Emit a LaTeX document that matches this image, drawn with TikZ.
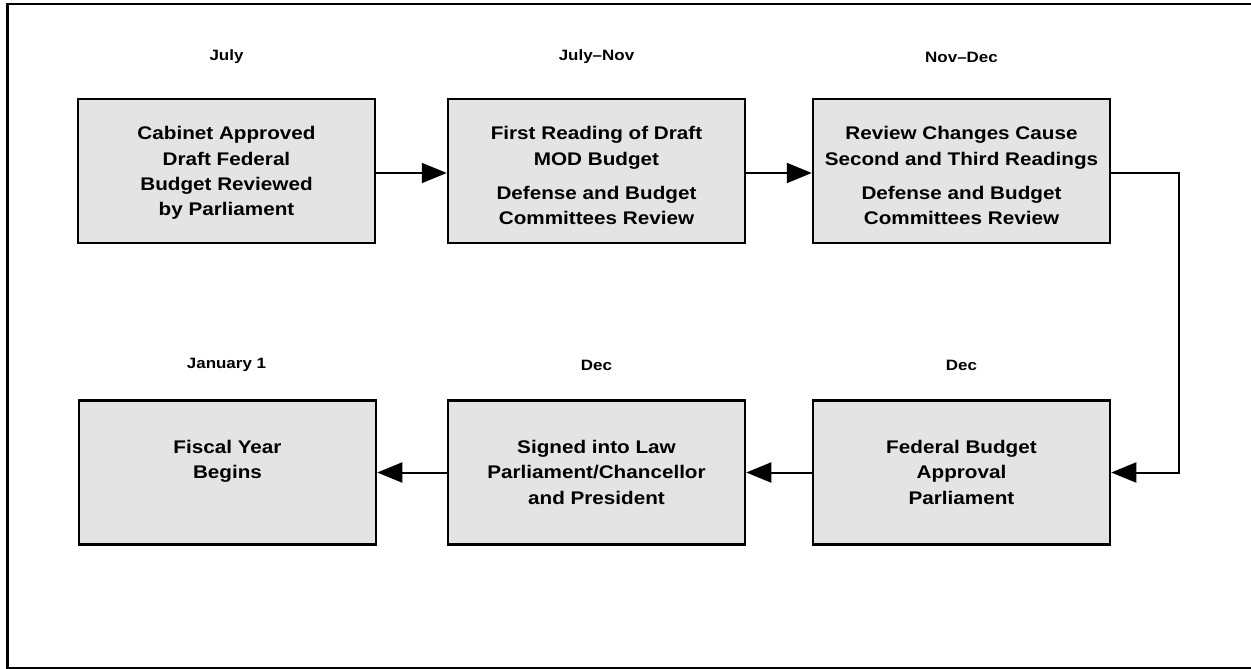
\documentclass[tikz,border=0pt]{standalone}
\usepackage{fontspec}
\setmainfont{Liberation Sans}[FakeStretch=1.13]
\usetikzlibrary{arrows.meta}
\definecolor{boxgray}{HTML}{E4E4E4}
\begin{document}
\begin{tikzpicture}[x=1pt,y=-1pt,
  box/.style={draw=black, line width=2.5pt, fill=boxgray, minimum width=297pt, minimum height=144pt, inner sep=0pt},
  txt/.style={font=\bfseries\fontsize{18.3}{25.3}\selectfont, align=center, inner sep=0pt, anchor=north},
  datelbl/.style={font=\bfseries\fontsize{15}{18}\selectfont, inner sep=0pt},
  conn/.style={line width=2pt, -{Triangle[length=25pt,width=20pt]}},
  frame/.style={line width=2.5pt}]
\useasboundingbox (0,0) rectangle (1251,669);
% outer frame
\draw[frame] (1260,4) -- (7.5,4) -- (7.5,668) -- (1260,668);
% date labels
\node[datelbl] (d1) at (226.5,57) {July};
\node[datelbl] (d2) at (596.5,57) {July–Nov};
\node[datelbl] (d3) at (961.5,57) {Nov–Dec};
\node[datelbl] (d4) at (226.5,365) {January 1};
\node[datelbl] (d5) at (596.5,365) {Dec};
\node[datelbl] (d6) at (961.5,365) {Dec};
% boxes
\node[box] (b1) at (226.5,171) {};
\node[box] (b2) at (596.5,171) {};
\node[box] (b3) at (961.5,171) {};
\node[box] (b4) at (227.5,472.5) {};
\node[box] (b5) at (596.5,472.5) {};
\node[box] (b6) at (961.5,472.5) {};
% box texts
\node[txt] (t1) at (226.5,126.5) {Cabinet Approved\\Draft Federal\\Budget Reviewed\\by Parliament};
\node[txt] (t2) at (596.5,126.5) {First Reading of Draft\\MOD Budget\\[9pt]Defense and Budget\\Committees Review};
\node[txt] (t3) at (961.5,126.5) {Review Changes Cause\\Second and Third Readings\\[9pt]Defense and Budget\\Committees Review};
\node[txt] (t4) at (227.5,440) {Fiscal Year\\Begins};
\node[txt] (t5) at (596.5,440) {Signed into Law\\Parliament/Chancellor\\and President};
\node[txt] (t6) at (961.5,440) {Federal Budget\\Approval\\Parliament};
% connectors
\draw[conn] ([yshift=-2pt]b1.east) -- ([yshift=-2pt]b2.west);
\draw[conn] ([yshift=-2pt]b2.east) -- ([yshift=-2pt]b3.west);
\draw[conn] ([yshift=-2pt]b3.east) -- ++(68,0) |- (b6.east);
\draw[conn] (b6.west) -- (b5.east);
\draw[conn] (b5.west) -- (b4.east);
\end{tikzpicture}
\end{document}
